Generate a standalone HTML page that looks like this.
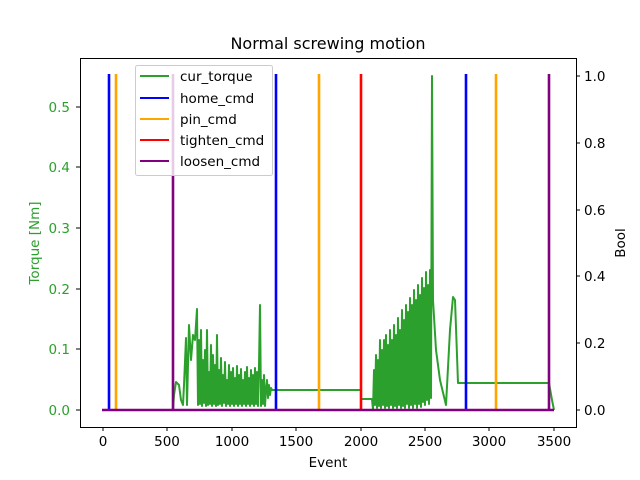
<!DOCTYPE html>
<html><head><meta charset="utf-8"><style>body{margin:0;background:#fff}svg{display:block}text{font-family:"DejaVu Sans","Liberation Sans",sans-serif}</style></head><body>
<svg width="640" height="480" xmlns="http://www.w3.org/2000/svg">
<rect width="640" height="480" fill="#fff"/>
<path fill="none" stroke="#2ca02c" stroke-width="2" stroke-linejoin="round" d="M103,410L173,410L174,395L176,382L179,385L181,400L183,405L184,385L186,338L187,405L189,325L191,360L193,335L195,340L197,309L198,405L199,340L200,404L201,330L202,406L203,360L204,403L205,350L206,406L207,330L208,405L209,372L210,404L211,345L212,406L213,355L214,404L215,365L216,406L217,335L218,405L219,370L220,404L221,358L222,406L223,375L224,403L225,362L226,406L227,380L228,404L229,365L230,406L231,372L232,404L233,368L234,406L235,378L236,404L237,366L238,406L239,375L240,404L241,369L242,406L243,380L244,404L245,372L246,406L247,367L248,404L249,378L250,406L251,370L252,404L253,375L254,406L255,368L256,404L257,372L258,406L259,365L260,305L261,406L262,380L263,404L264,375L265,406L266,390L267,380L268,398L269,385L270,395L271,388L272,390L361,390L361,399L372,399L373,410L374,370L375,405L376,355L377,408L378,360L379,406L380,340L381,408L382,350L383,405L384,340L385,408L386,335L387,406L388,345L389,408L390,330L391,405L392,340L393,408L394,325L395,406L396,335L397,408L398,318L399,405L400,330L401,408L402,310L403,406L404,320L405,408L406,305L407,404L408,312L409,408L410,298L411,405L412,305L413,408L414,290L415,404L416,300L417,408L418,285L419,404L420,295L421,407L422,278L423,402L424,288L425,405L426,272L427,400L428,285L429,404L430,270L431,398L432,76L433,300L436,350L440,380L446,405L450,330L453,297L455,300L458,383L460,383L549,383L552,400L554,410"/>
<g stroke="#0000ff" stroke-width="2.6"><line x1="109" y1="410" x2="109" y2="74"/><line x1="276" y1="410" x2="276" y2="74"/><line x1="466" y1="410" x2="466" y2="74"/></g>
<g stroke="#ffa500" stroke-width="2.6"><line x1="116" y1="410" x2="116" y2="74"/><line x1="319" y1="410" x2="319" y2="74"/><line x1="496" y1="410" x2="496" y2="74"/></g>
<line x1="361" y1="410" x2="361" y2="74" stroke="#ff0000" stroke-width="2.6"/>
<g stroke="#800080" stroke-width="2.6"><line x1="173" y1="410" x2="173" y2="74"/><line x1="549" y1="410" x2="549" y2="74"/><line x1="102" y1="410" x2="554" y2="410"/></g>
<rect x="80.5" y="58.5" width="496" height="369" fill="none" stroke="#000" stroke-width="1"/>
<g font-size="13.5" fill="#2ca02c" text-anchor="end">
<text x="70" y="415">0.0</text><text x="70" y="354">0.1</text><text x="70" y="294">0.2</text><text x="70" y="233">0.3</text><text x="70" y="172">0.4</text><text x="70" y="112">0.5</text></g>
<g stroke="#000"><line x1="76" y1="410" x2="80" y2="410"/><line x1="76" y1="349" x2="80" y2="349"/><line x1="76" y1="289" x2="80" y2="289"/><line x1="76" y1="228" x2="80" y2="228"/><line x1="76" y1="167" x2="80" y2="167"/><line x1="76" y1="107" x2="80" y2="107"/>
<line x1="576" y1="410" x2="580" y2="410"/><line x1="576" y1="343" x2="580" y2="343"/><line x1="576" y1="276" x2="580" y2="276"/><line x1="576" y1="210" x2="580" y2="210"/><line x1="576" y1="143" x2="580" y2="143"/><line x1="576" y1="76" x2="580" y2="76"/>
<line x1="103" y1="427" x2="103" y2="431"/><line x1="167" y1="427" x2="167" y2="431"/><line x1="232" y1="427" x2="232" y2="431"/><line x1="296" y1="427" x2="296" y2="431"/><line x1="361" y1="427" x2="361" y2="431"/><line x1="425" y1="427" x2="425" y2="431"/><line x1="489" y1="427" x2="489" y2="431"/><line x1="554" y1="427" x2="554" y2="431"/></g>
<g font-size="13.5" fill="#000"><text x="584" y="415">0.0</text><text x="584" y="348">0.2</text><text x="584" y="281">0.4</text><text x="584" y="215">0.6</text><text x="584" y="148">0.8</text><text x="584" y="81">1.0</text></g>
<g font-size="13.5" fill="#000" text-anchor="middle"><text x="103" y="446">0</text><text x="167" y="446">500</text><text x="232" y="446">1000</text><text x="296" y="446">1500</text><text x="361" y="446">2000</text><text x="425" y="446">2500</text><text x="489" y="446">3000</text><text x="554" y="446">3500</text></g>
<text x="328" y="467" font-size="13.5" text-anchor="middle">Event</text>
<text x="328" y="49" font-size="16" text-anchor="middle">Normal screwing motion</text>
<text transform="translate(39,243) rotate(-90)" font-size="13.5" fill="#2ca02c" text-anchor="middle">Torque [Nm]</text>
<text transform="translate(625,243) rotate(-90)" font-size="13.5" text-anchor="middle">Bool</text>
<rect x="135.5" y="65.5" width="137" height="110" rx="2" fill="#fff" fill-opacity="0.8" stroke="#ccc"/>
<g stroke-width="2"><line x1="140" y1="76" x2="169" y2="76" stroke="#2ca02c"/><line x1="140" y1="98" x2="169" y2="98" stroke="#0000ff"/><line x1="140" y1="119" x2="169" y2="119" stroke="#ffa500"/><line x1="140" y1="140" x2="169" y2="140" stroke="#ff0000"/><line x1="140" y1="161" x2="169" y2="161" stroke="#800080"/></g>
<g font-size="13.5"><text x="180" y="81">cur_torque</text><text x="180" y="103">home_cmd</text><text x="180" y="124">pin_cmd</text><text x="180" y="145">tighten_cmd</text><text x="180" y="166">loosen_cmd</text></g>
</svg>
</body></html>
